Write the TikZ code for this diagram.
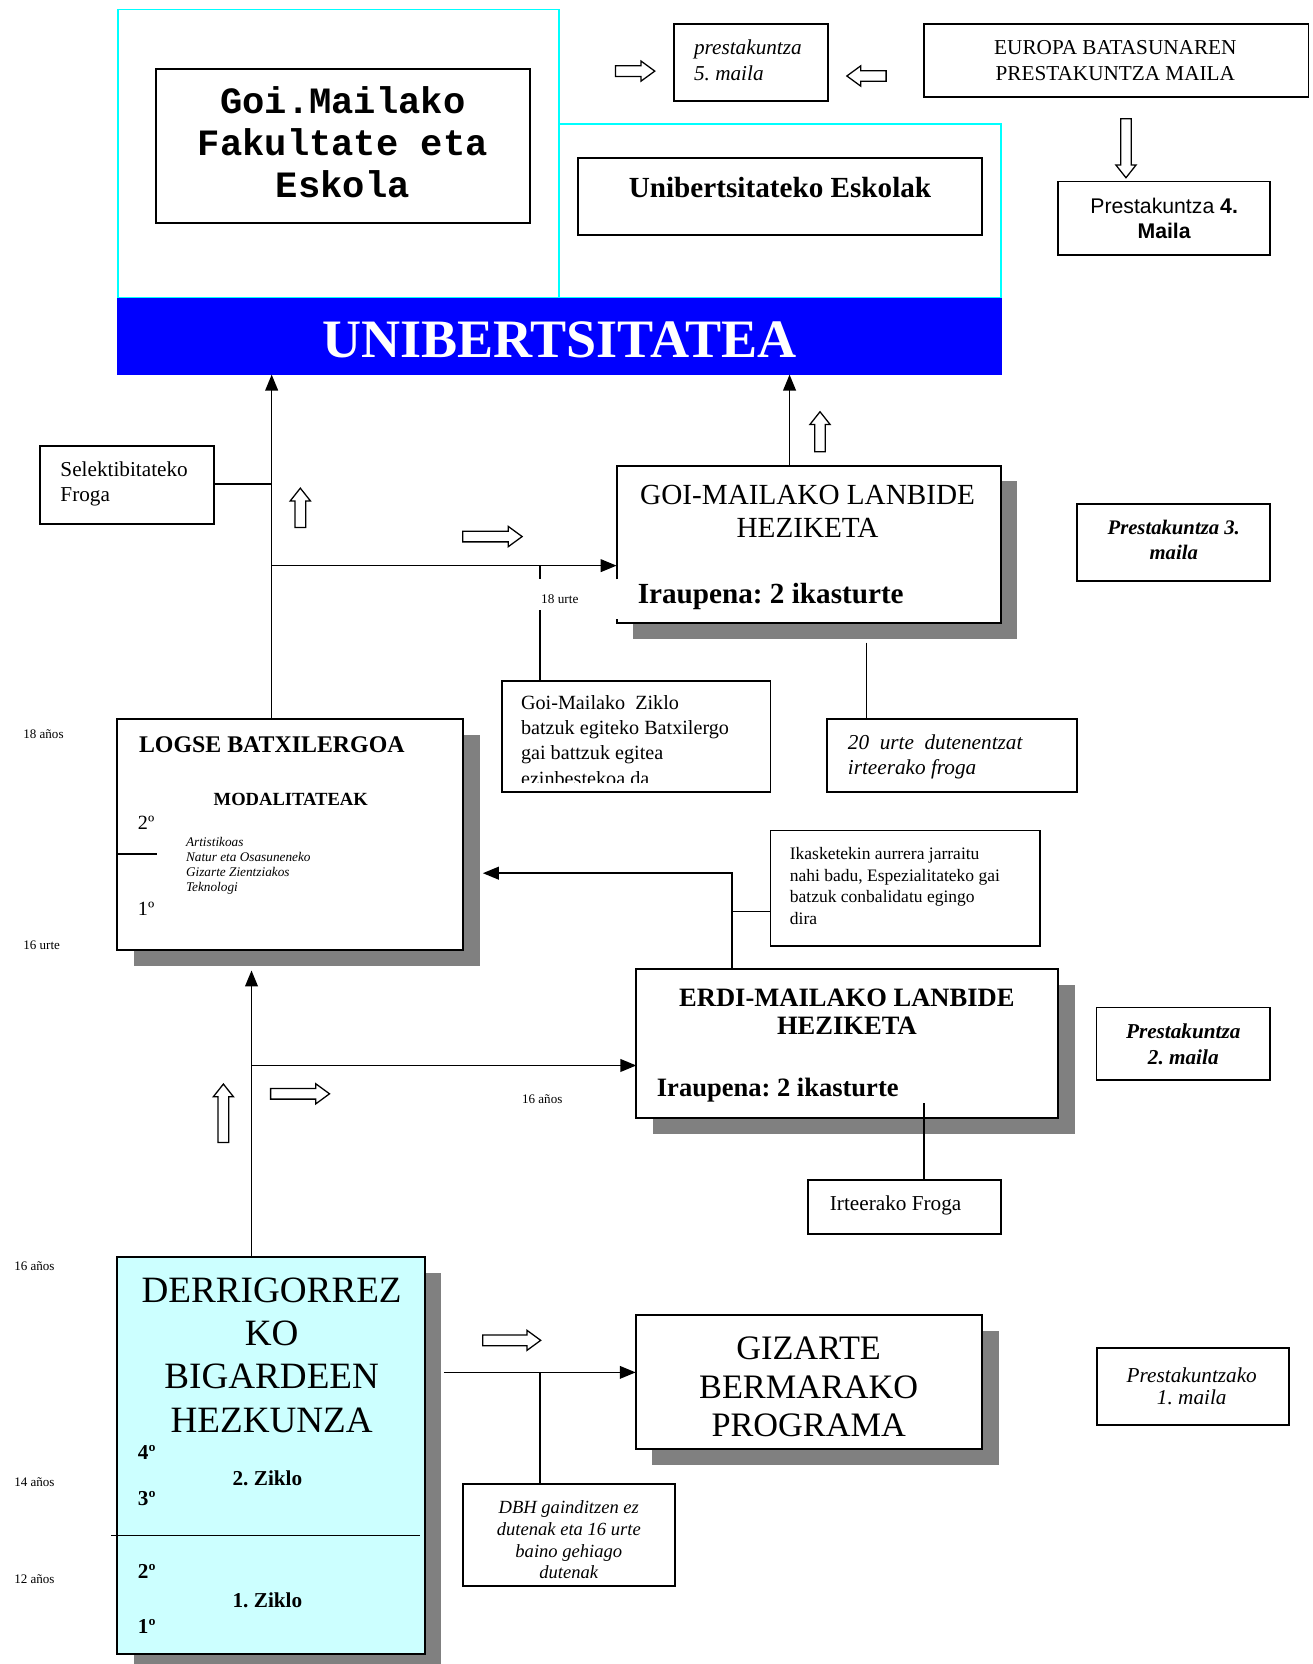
\documentclass[tikz,border=0pt]{standalone}
\usepackage{fontspec}
\setmainfont{Liberation Serif}
\setsansfont{Liberation Sans}
\setmonofont{Liberation Mono}
\usetikzlibrary{arrows.meta,calc}
\definecolor{cyanline}{HTML}{00FFFF}
\definecolor{unblue}{HTML}{0000FF}
\definecolor{shadowgray}{HTML}{808080}
\definecolor{lightcyan}{HTML}{CCFFFF}
\frenchspacing
\newcommand\fs[2]{\fontsize{#1}{#2}\selectfont}
\tikzset{
  boxst/.style={draw=black, line width=1.8pt, inner sep=0pt, outer sep=0pt, anchor=north west},
  txt/.style={inner sep=0pt, outer sep=0pt},
  conn/.style={line width=1.4pt},
  tip/.style={-{Triangle[length=15pt,width=12pt]}},
  harrow/.style={draw=black, fill=white, line width=1.2pt, line join=miter},
}
% box: [fill]{name}{x1}{y1}{x2}{y2}
\newcommand\mkbox[6][white]{\node[boxst, fill=#1, minimum width={(#5-#3)*1pt}, minimum height={(#6-#4)*1pt}] (#2) at (#3,#4) {};}
\newcommand\mkshadow[4]{\fill[shadowgray] (#1+15.5,#2+15) rectangle (#3+15.5,#4+15);}
% hollow arrows
\newcommand\hR[3]{\draw[harrow] (#1,#2-5) -- (#3-13,#2-5) -- (#3-13,#2-9.5) -- (#3,#2) -- (#3-13,#2+9.5) -- (#3-13,#2+5) -- (#1,#2+5) -- cycle;}
\newcommand\hL[3]{\draw[harrow] (#3,#2-5) -- (#1+13,#2-5) -- (#1+13,#2-9.5) -- (#1,#2) -- (#1+13,#2+9.5) -- (#1+13,#2+5) -- (#3,#2+5) -- cycle;}
\newcommand\hU[3]{\draw[harrow] (#1-5,#2) -- (#1-5,#3+12) -- (#1-9.5,#3+12) -- (#1,#3) -- (#1+9.5,#3+12) -- (#1+5,#3+12) -- (#1+5,#2) -- cycle;}
\newcommand\hD[3]{\draw[harrow] (#1-5,#2) -- (#1-5,#3-12) -- (#1-9.5,#3-12) -- (#1,#3) -- (#1+9.5,#3-12) -- (#1+5,#3-12) -- (#1+5,#2) -- cycle;}
\begin{document}
\begin{tikzpicture}[x=1pt,y=-1pt]
\useasboundingbox (0,0) rectangle (1237,1568);
\fill[white] (0,0) rectangle (1237,1568);

% ---------- university block ----------
\node[boxst, draw=cyanline, line width=1.5pt, minimum width=415.6pt, minimum height=272pt] (cyanL) at (111,8.8) {};
\node[boxst, draw=cyanline, line width=1.5pt, minimum width=416.4pt, minimum height=164pt] (cyanR) at (526.6,117) {};
\mkbox{goibox}{147}{65}{499}{210}
\mkbox{unibox}{544.5}{149}{925}{221.5}
\node[boxst, draw=none, fill=unblue, minimum width=834pt, minimum height=72pt] (uni) at (110,281) {};
\node[txt, font=\ttfamily\bfseries\fs{35}{40}, align=center] (goitxt) at (323,134) {Goi.Mailako\\Fakultate eta\\Eskola};
\node[txt, font=\bfseries\fs{27.5}{31}] (unitxt) at (735,177) {Unibertsitateko Eskolak};
\node[txt, font=\bfseries\fs{51}{53}, text=white] (unibig) at (527,320) {UNIBERTSITATEA};

% ---------- top right ----------
\mkbox{p5}{635}{22.6}{780}{95}
\node[txt, font=\itshape\fs{20}{24}, align=left, anchor=west] (p5txt) at (654,57) {prestakuntza\\5. maila};
\mkbox{europa}{870.6}{22.6}{1233}{91}
\node[txt, font=\fs{20}{24}, align=center] (eutxt) at (1051,57) {EUROPA BATASUNAREN\\PRESTAKUNTZA MAILA};
\mkbox{p4}{997}{171}{1196.6}{240}
\node[txt, font=\sffamily\fs{20}{24}, align=center] (p4txt) at (1097,206) {Prestakuntza \textbf{4.}\\\textbf{Maila}};
\hR{580}{67}{617}
\hL{798}{71.6}{835}
\hD{1061}{112}{167.5}

% ---------- GOI-MAILAKO ----------
\mkbox{selek}{38}{420}{201.5}{493.4}
\node[txt, font=\fs{20}{24}, align=left, anchor=west] (seltxt) at (57,456) {Selektibitateko\\Froga};
\mkshadow{581}{438.7}{943}{587}
\node[boxst, draw=none, fill=white, minimum width=362pt, minimum height=148.3pt] (goi) at (581,438.7) {};
\draw[line width=1.8pt] (581,546) -- (goi.north west) -- (goi.north east) -- (goi.south east) -- (goi.south west) -- (581,583);
\node[txt, font=\fs{27.5}{31}, align=center] (goiltxt) at (761,482) {GOI-MAILAKO LANBIDE\\HEZIKETA};
\node[txt, font=\bfseries\fs{27.5}{31}, anchor=west] (goiira) at (601,562) {Iraupena: 2 ikasturte};
\mkbox{p3}{1015}{474.8}{1196.6}{547.4}
\node[txt, font=\bfseries\itshape\fs{19.5}{23.5}, align=center] (p3txt) at (1106,509) {Prestakuntza 3.\\maila};
\mkbox{ziklo}{472.7}{642}{726}{746}
\begin{scope}
\clip (474,643) rectangle (725,737.5);
\node[txt, font=\fs{19}{23.7}, align=left, anchor=north west] (zikltxt) at (491,655.5) {Goi-Mailako\ \ Ziklo\\batzuk egiteko Batxilergo\\gai battzuk egitea\\ezinbestekoa da};
\end{scope}
\mkbox{urte20}{779}{677.7}{1015}{746}
\node[txt, font=\itshape\fs{20}{24}, align=left, anchor=west] (u20txt) at (799,713) {20\ \ urte\ \ dutenentzat\\irteerako froga};
\hU{283}{497}{460}
\hR{436}{505.6}{492}
\hU{772.7}{425.6}{388}

% ---------- LOGSE ----------
\mkshadow{110.6}{677.7}{436.6}{895}
\mkbox{logse}{110.6}{677.7}{436.6}{895}
\node[txt, font=\bfseries\fs{22.5}{26}, anchor=west] (logtxt) at (131,702) {LOGSE BATXILERGOA};
\node[txt, font=\bfseries\fs{17.5}{20}] (modtxt) at (274,753) {MODALITATEAK};
\node[txt, font=\fs{19}{22}, anchor=west] (l2) at (130,775) {2º};
\node[txt, font=\fs{19}{22}, anchor=west] (l1) at (130,856) {1º};
\node[txt, font=\itshape\fs{12.5}{14.2}, align=left, anchor=west] (modlist) at (175.3,816) {Artistikoas\\Natur eta Osasuneneko\\Gizarte Zientziakos\\Teknologi};
\draw[conn] (110.6,804.6) -- (148,804.6);
\node[txt, font=\fs{12.3}{14}, anchor=west] (a18) at (22,692) {18 años};
\node[txt, font=\fs{12.3}{14}, anchor=west] (u16) at (22,891) {16 urte};

% ---------- ERDI ----------
\mkbox{ikask}{726}{782.6}{979.6}{891}
\node[txt, font=\fs{16.5}{20.2}, align=left, anchor=west] (iktxt) at (744.3,835) {Ikasketekin aurrera jarraitu\\nahi badu, Espezialitateko gai\\batzuk conbalidatu egingo\\dira};
\mkshadow{599.6}{913.3}{997.2}{1053.6}
\mkbox{erdi}{599.6}{913.3}{997.2}{1053.6}
\node[txt, font=\bfseries\fs{25}{26.5}, align=center] (erdtxt) at (798,953) {ERDI-MAILAKO LANBIDE\\HEZIKETA};
\node[txt, font=\bfseries\fs{25}{28}, anchor=west] (erdira) at (619,1027) {Iraupena: 2 ikasturte};
\mkbox{p2}{1033.2}{949.4}{1196.6}{1017.5}
\node[txt, font=\bfseries\itshape\fs{20}{24}, align=center] (p2txt) at (1115,984) {Prestakuntza\\2. maila};
\mkbox{irte}{761.5}{1111.7}{943}{1162.6}
\node[txt, font=\fs{20}{24}, anchor=west] (irttxt) at (782,1136) {Irteerako Froga};
\node[txt, font=\fs{12.3}{14}, anchor=west] (a16b) at (492,1036) {16 años};
\hU{210.5}{1076.6}{1021.5}
\hR{255}{1030.7}{310.5}

% ---------- DERRIGORREZ ----------
\mkshadow{110.6}{1184.6}{400.5}{1558.6}
\mkbox[lightcyan]{derr}{110.6}{1184.6}{400.5}{1558.6}
\node[txt, font=\fs{35}{40.7}, align=center] (derrtxt) at (256,1277) {DERRIGORREZ\\KO\\BIGARDEEN\\HEZKUNZA};
\node[txt, font=\bfseries\fs{20}{24}, anchor=west] (d4) at (130,1369) {4º};
\node[txt, font=\bfseries\fs{20}{24}, anchor=west] (d3) at (130,1412) {3º};
\node[txt, font=\bfseries\fs{20}{24}, anchor=west] (d2) at (130,1481) {2º};
\node[txt, font=\bfseries\fs{20}{24}, anchor=west] (d1) at (130,1533) {1º};
\node[txt, font=\bfseries\fs{20}{24}] (z2) at (252,1393) {2. Ziklo};
\node[txt, font=\bfseries\fs{20}{24}] (z1) at (252,1508) {1. Ziklo};
\draw[conn] (105,1446.8) -- (395.3,1446.8);
\node[txt, font=\fs{12.3}{14}, anchor=west] (a16) at (13.5,1193.5) {16 años};
\node[txt, font=\fs{12.3}{14}, anchor=west] (a14) at (13.5,1397) {14 años};
\node[txt, font=\fs{12.3}{14}, anchor=west] (a12) at (13.5,1488) {12 años};

% ---------- GIZARTE ----------
\mkshadow{599}{1239}{925.6}{1365.5}
\mkbox{gizarte}{599}{1239}{925.6}{1365.5}
\node[txt, font=\fs{32.3}{36.5}, align=center] (giztxt) at (762,1307) {GIZARTE\\BERMARAKO\\PROGRAMA};
\mkbox{p1}{1033.5}{1270.3}{1214.7}{1343.2}
\node[txt, font=\itshape\fs{20}{21}, align=center] (p1txt) at (1123,1306) {Prestakuntzako\\1. maila};
\mkbox{dbh}{436.2}{1398.5}{636}{1494.9}
\node[txt, font=\itshape\fs{17.5}{20.4}, align=center] (dbhtxt) at (536,1451) {DBH gainditzen ez\\dutenak eta 16 urte\\baino gehiago\\dutenak};
\hR{454.8}{1263}{509.5}

% ---------- connectors ----------
\coordinate (jSel) at (256,456.3);
\coordinate (jGoi) at (256,533);
\coordinate (j18) at (508.8,533);
\coordinate (g18a) at (508.8,546);
\coordinate (g18b) at (508.8,575);
\draw[conn,tip] (logse.north -| jSel) -- (uni.south -| jSel);
\draw[conn] (selek.east |- jSel) -- (jSel);
\draw[conn,tip] (jGoi) -- (goi.west |- jGoi);
\draw[conn] (j18) -- (g18a);
\draw[conn] (g18b) -- (ziklo.north -| g18b);
\node[txt, font=\fs{12.5}{14}, anchor=west] (l18) at (510,565) {18 urte};
\coordinate (jG) at (744,420);
\draw[conn,tip] (goi.north -| jG) -- (uni.south -| jG);
\coordinate (j20) at (816.4,605.5);
\draw[conn] (j20) -- (urte20.north -| j20);
\coordinate (jIk) at (689.8,859);
\coordinate (cLog) at (455,822.8);
\draw[conn,tip] (erdi.north -| jIk) -- (jIk |- cLog) -- (cLog);
\draw[conn] (jIk) -- (ikask.west |- jIk);
\coordinate (jD) at (237,1004);
\coordinate (cLogB) at (237,914.5);
\draw[conn,tip] (derr.north -| jD) -- (cLogB);
\draw[conn,tip] (jD) -- (erdi.west |- jD);
\coordinate (cIrt) at (870.7,1039.5);
\draw[conn] (cIrt) -- (irte.north -| cIrt);
\coordinate (cGz) at (418.3,1293.2);
\coordinate (jDbh) at (508.8,1293.2);
\draw[conn,tip] (cGz) -- (gizarte.west |- cGz);
\draw[conn] (jDbh) -- (dbh.north -| jDbh);
\end{tikzpicture}
\end{document}
